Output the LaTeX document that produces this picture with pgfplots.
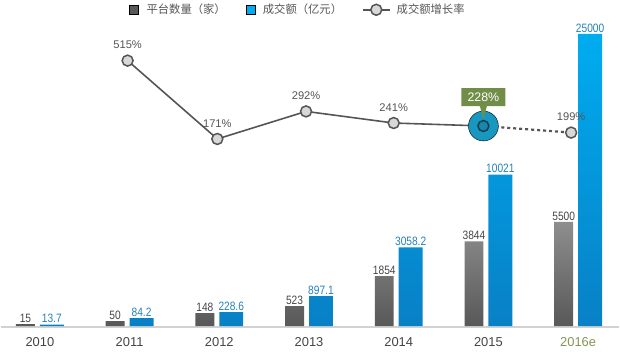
\documentclass[border=0pt]{standalone}
\usepackage{pgfplots}
\pgfplotsset{compat=1.18}
\usepackage{pgfplotstable}
\usepackage{fontspec}
\setmainfont{Liberation Sans}
\newfontfamily\numfont[FakeStretch=0.84]{Liberation Sans}
\newfontfamily\cjk{Noto Sans CJK SC}
\usetikzlibrary{shapes.callouts}

\definecolor{gtop}{RGB}{142,142,142}
\definecolor{gbot}{RGB}{88,88,88}
\definecolor{btop}{RGB}{0,172,240}
\definecolor{bbot}{RGB}{8,128,198}
\definecolor{glab}{RGB}{70,70,70}
\definecolor{blab}{RGB}{36,128,186}
\definecolor{linegray}{RGB}{85,85,85}
\definecolor{markfill}{RGB}{216,216,216}
\definecolor{tealbig}{RGB}{24,152,192}
\definecolor{tealin}{RGB}{26,134,172}
\definecolor{tealdark}{RGB}{22,62,82}
\definecolor{callgreen}{RGB}{112,142,72}
\definecolor{yearcol}{RGB}{68,68,68}
\definecolor{yeargreen}{RGB}{132,150,84}
\definecolor{basegray}{RGB}{210,210,210}
\definecolor{legtext}{RGB}{85,85,85}

\pgfplotsset{
  sqlegend/.style={legend image code/.code={\fill[##1] (0bp,-4.5bp) rectangle (9bp,4.5bp); \path[draw=none,fill=none] (0bp,0bp) -- (15bp,0bp);}},
  lnlegend/.style={legend image code/.code={
      \draw[line width=1.5bp, draw=linegray] (0bp,0bp) -- (27bp,0bp);
      \draw[line width=1.5bp, draw=linegray, fill=markfill] (13.5bp,0bp) circle (5.5bp);
      \path[draw=none,fill=none] (0bp,0bp) -- (32bp,0bp);}},
}

% i = category index, g/gl = platforms (drawn height / value), b/bl = turnover (drawn height / value)
\pgfplotstableread{
i g gl b bl
0 2 15 1.5 13.7
1 5 50 8 84.2
2 13 148 14 228.6
3 20 523 30 897.1
4 50 1854 79 3058.2
5 85 3844 152 10021
6 104.5 5500 293 25000
}\bars

% growth rate (%)
\pgfplotstableread{
x y
0.978 515
1.978 171
2.967 292
3.944 241
5.922 199
}\growth

\begin{document}
\begin{tikzpicture}
\begin{axis}[
  scale only axis, width=620bp, height=352bp,
  xmin=-0.4333, xmax=6.4556, ymin=-25, ymax=327,
  axis line style={draw=none}, major tick length=0pt, ytick=\empty,
  xtick={0,1,2,3,4,5,6},
  xticklabels={2010,2011,2012,2013,2014,2015,\textcolor{yeargreen}{2016e}},
  xticklabel style={anchor=center, yshift=9bp, font=\fontsize{13}{15}\selectfont, text=yearcol},
  /pgf/number format/assume math mode=true,
  clip=false,
  legend columns=3,
  legend style={at={(0.4806,0.994)}, anchor=north, draw=none, fill=none,
    font=\cjk\fontsize{11.4}{13}\selectfont, text=legtext,
    /tikz/every even column/.append style={column sep=18bp},
    inner sep=0pt, outer sep=0pt},
]
\draw[basegray, line width=2bp] (axis cs:-0.4333,-1.2) -- (axis cs:6.4556,-1.2);
\addplot[ybar, bar width=19bp, bar shift=-14.5bp, draw=none, top color=gtop, bottom color=gbot,
  point meta=explicit symbolic, nodes near coords,
  nodes near coords style={font=\numfont\fontsize{12.2}{14}\selectfont, text=glab, anchor=south, inner sep=1.5bp, xshift=-14.5bp},
  forget plot] table[x=i, y=g, meta=gl] {\bars};
\addplot[ybar, bar width=24bp, bar shift=12bp, draw=none, top color=btop, bottom color=bbot,
  point meta=explicit symbolic, nodes near coords,
  nodes near coords style={font=\numfont\fontsize{12.2}{14}\selectfont, text=blab, anchor=south, inner sep=1.5bp, xshift=12bp},
  forget plot] table[x=i, y=b, meta=bl] {\bars};
\addlegendimage{sqlegend, fill=gbot}
\addlegendentry{平台数量（家）}
\addlegendimage{sqlegend, fill=btop}
\addlegendentry{成交额（亿元）}
\addlegendimage{lnlegend}
\addlegendentry{成交额增长率}
\end{axis}

\begin{axis}[
  scale only axis, width=620bp, height=352bp,
  xmin=-0.4333, xmax=6.4556, ymin=-759.7, ymax=780.7,
  hide axis, clip=false,
]
\addplot[only marks, mark=*, mark size=15bp, mark options={fill=tealbig, draw=none}] coordinates {(4.944,228)};
\addplot[line width=1.6bp, linegray, no markers] coordinates {(0.978,515)(1.978,171)(2.967,292)(3.944,241)(4.944,228)};
\addplot[line width=2.2bp, linegray, dash pattern=on 3bp off 3bp, no markers] coordinates {(4.944,228)(5.922,199)};
\addplot[only marks, mark=*, mark size=5.5bp, mark options={fill=markfill, draw=linegray, line width=1.5bp},
  point meta=explicit symbolic, nodes near coords={\pgfplotspointmeta\%},
  nodes near coords style={font=\fontsize{11.2}{13}\selectfont, text=linegray, anchor=south, yshift=10bp, inner sep=1bp}]
  table[x=x, y=y, meta=y] {\growth};
\addplot[only marks, mark=*, mark size=5.5bp, mark options={fill=tealin, draw=tealdark, line width=1.5bp},
  point meta=explicit symbolic, nodes near coords={228\%},
  nodes near coords style={rectangle callout, callout relative pointer={(0bp,-13bp)}, fill=callgreen, text=white,
    font=\fontsize{12.5}{14}\selectfont, anchor=center, yshift=29bp, minimum width=44bp, minimum height=18bp, inner sep=1bp}]
  coordinates {(4.944,228)};
\end{axis}
\end{tikzpicture}
\end{document}
